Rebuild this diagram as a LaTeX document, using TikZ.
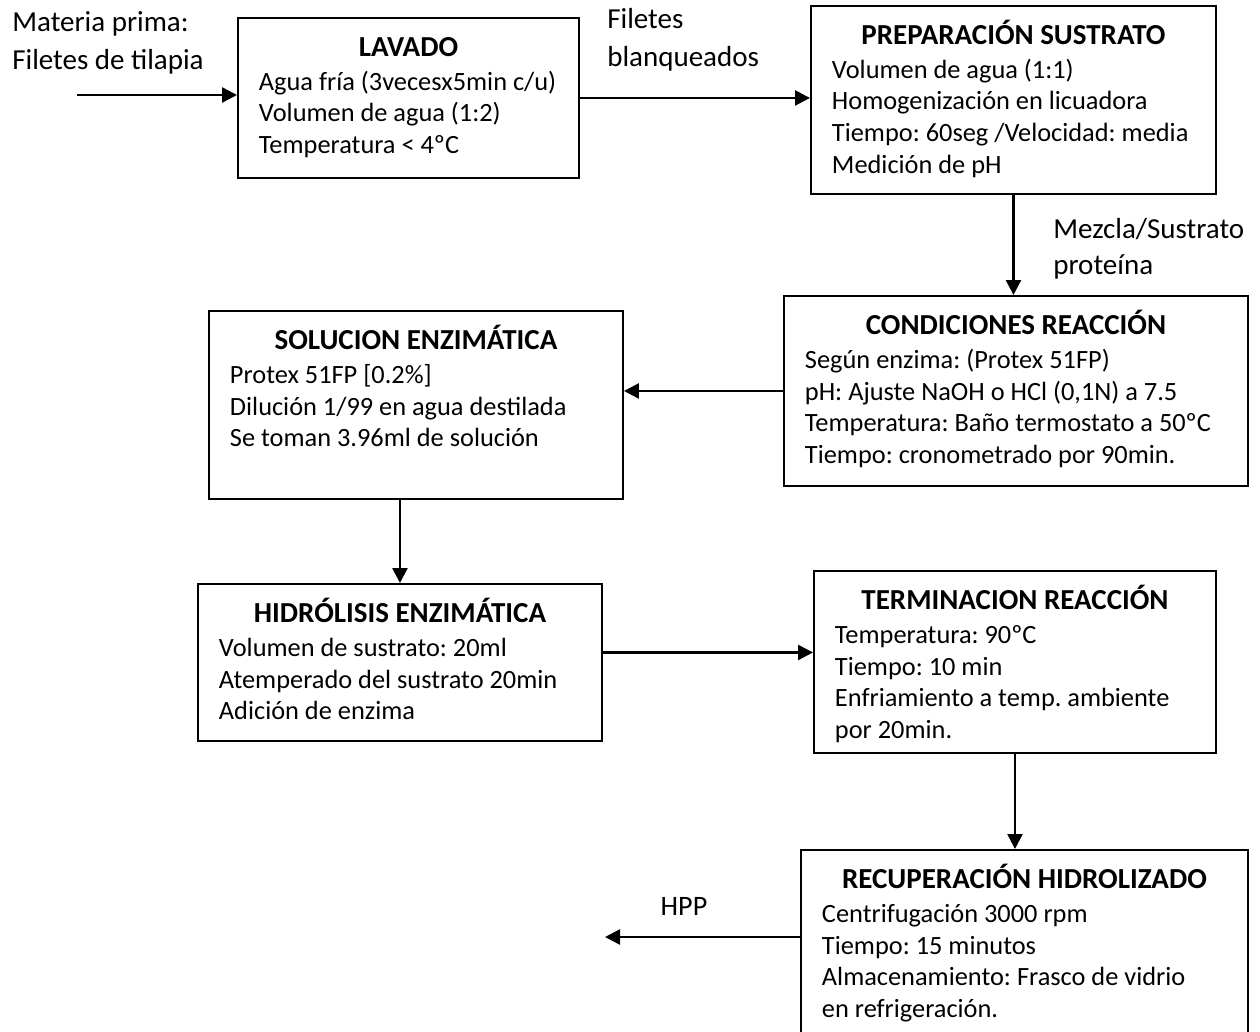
\documentclass[tikz,border=0pt]{standalone}
\usepackage{fontspec}
\setmainfont{Carlito}
\usetikzlibrary{arrows, arrows.meta}
\usetikzlibrary{positioning}
\usetikzlibrary{calc}

\tikzset{
	procbox/.style={draw=black, line width=1.1pt, anchor=north west, inner xsep=0.42cm, inner ysep=0pt},
	flow/.style={line width=1.4pt, -{Triangle[length=0.3cm, width=0.3cm]}},
	note/.style={align=left, inner sep=0pt, anchor=west, font=\fontsize{16.5}{21.5}\selectfont}
}
% title centred, lines to the left, content at the top of a box of fixed height
\newcommand\boxtext[4]{\parbox[c][#1][t]{#2}{\frenchspacing\vspace{8pt}\centering{\fontsize{16.5}{18}\selectfont\bfseries\rule{0pt}{14pt}#3\par}\vspace{1pt}\raggedright #4\par}}

\begin{document}
\begin{tikzpicture}[x=1cm, y=-1cm, font=\fontsize{15}{18.1}\selectfont]
	\useasboundingbox (0,0) rectangle (25.2,20.64);
	% boxes
	\node[procbox] (lavado) at (4.74,0.34){\boxtext{3.2cm}{5.98cm}{LAVADO}{Agua fría (3vecesx5min c/u)\\Volumen de agua (1:2)\\Temperatura < 4ºC}};
	\node[procbox] (prep) at (16.2,0.1){\boxtext{3.76cm}{7.26cm}{PREPARACIÓN SUSTRATO}{Volumen de agua (1:1)\\Homogenización en licuadora\\Tiempo: 60seg /Velocidad: media\\Medición de pH}};
	\node[procbox] (cond) at (15.66,5.9){\boxtext{3.8cm}{8.44cm}{CONDICIONES REACCIÓN}{Según enzima: (Protex 51FP)\\pH: Ajuste NaOH o HCl (0,1N) a 7.5\\Temperatura: Baño termostato a 50ºC\\Tiempo: cronometrado por 90min.}};
	\node[procbox] (sol) at (4.16,6.2){\boxtext{3.76cm}{7.44cm}{SOLUCION ENZIMÁTICA}{Protex 51FP [0.2\%]\\Dilución 1/99 en agua destilada\\Se toman 3.96ml de solución}};
	\node[procbox] (hidro) at (3.94,11.66){\boxtext{3.14cm}{7.24cm}{HIDRÓLISIS ENZIMÁTICA}{Volumen de sustrato: 20ml\\Atemperado del sustrato 20min\\Adición de enzima}};
	\node[procbox] (term) at (16.26,11.4){\boxtext{3.64cm}{7.2cm}{TERMINACION REACCIÓN}{Temperatura: 90ºC\\Tiempo: 10 min\\Enfriamiento a temp. ambiente\\por 20min.}};
	\node[procbox] (recup) at (16.0,16.98){\boxtext{4.0cm}{8.1cm}{RECUPERACIÓN HIDROLIZADO}{Centrifugación 3000 rpm\\Tiempo: 15 minutos\\Almacenamiento: Frasco de vidrio\\en refrigeración.}};
	% free ends
	\coordinate (input) at (1.54,1.9);
	\coordinate (hpp) at (12.1,18.74);
	% labels
	\node[note] (matlabel) at (0.24,0.86){Materia prima:\\Filetes de tilapia};
	\node[note] (filabel) at (12.14,0.8){Filetes\\blanqueados};
	\node[note] (mezlabel) at (21.06,4.98){Mezcla/Sustrato\\[-1pt]proteína};
	\node[font=\fontsize{16}{19}\selectfont] (hpplabel) at (13.68,18.12){HPP};
	% connectors
	\draw[flow] (input) -- (input -| lavado.west);
	\draw[flow] (lavado.east) -- (lavado.east -| prep.west);
	\draw[flow] (prep.south) -- (prep.south |- cond.north);
	\draw[flow] (cond.west) -- (cond.west -| sol.east);
	\draw[flow] (sol.south -| hidro.north) -- (hidro.north);
	\draw[flow] ($(hidro.east)+(0,-0.2)$) -- ($(hidro.east -| term.west)+(0,-0.2)$);
	\draw[flow] (term.south) -- (term.south |- recup.north);
	\draw[flow] (recup.west |- hpp) -- (hpp);
\end{tikzpicture}
\end{document}
